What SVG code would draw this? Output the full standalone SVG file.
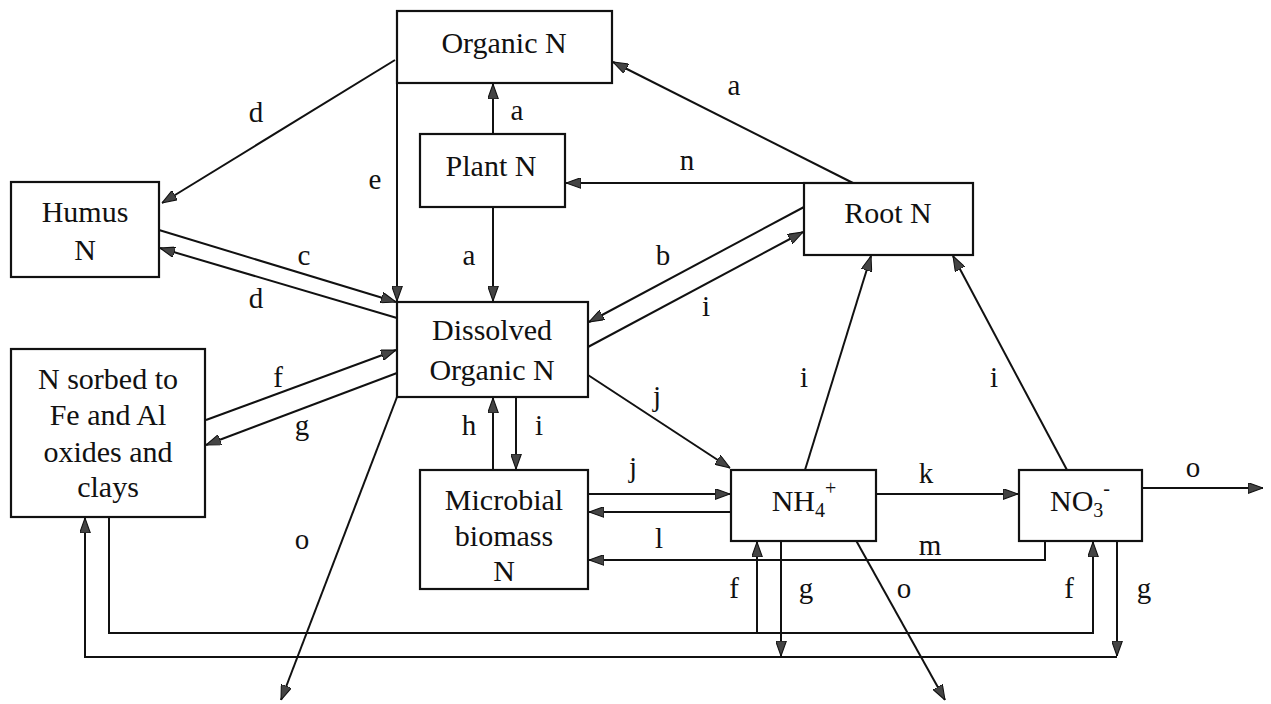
<svg xmlns="http://www.w3.org/2000/svg" width="1271" height="704" viewBox="0 0 1271 704">
<style>
.box{fill:#fff;stroke:#111;stroke-width:2.2}
text{fill:#111;text-anchor:middle}
.t{font-size:30px}
.l{font-size:29px}
.c{fill:none;stroke:#111;stroke-width:2;marker-end:url(#ah)}
</style>
<defs>
<marker id="ah" viewBox="0 0 14 10" refX="14" refY="5" markerWidth="15" markerHeight="11" markerUnits="userSpaceOnUse" orient="auto">
<path d="M0,0 L14,5 L0,10 z" fill="#444" stroke="#111" stroke-width="1"/>
</marker>
</defs>
<rect width="1271" height="704" fill="#fff"/>
<g id="connectors">
<path class="c" d="M395,60 L162,203"/>
<path class="c" d="M397,83 L397,301"/>
<path class="c" d="M493,134 L493,84"/>
<path class="c" d="M493,207 L493,301"/>
<path class="c" d="M853,183 L613,62"/>
<path class="c" d="M804,183 L566,183"/>
<path class="c" d="M159,230 L396,302"/>
<path class="c" d="M397,318 L160,248"/>
<path class="c" d="M804,207 L589,322"/>
<path class="c" d="M588,347 L803,232"/>
<path class="c" d="M206,420 L396,350"/>
<path class="c" d="M397,373 L206,445"/>
<path class="c" d="M397,397 L281,700"/>
<path class="c" d="M493,470 L493,398"/>
<path class="c" d="M516,397 L516,469"/>
<path class="c" d="M588,375 L730,468"/>
<path class="c" d="M588,494 L730,494"/>
<path class="c" d="M731,512 L589,512"/>
<path class="c" d="M1045,535 L1045,560 L589,560"/>
<path class="c" d="M876,494 L1018,494"/>
<path class="c" d="M1142,488 L1263,488"/>
<path class="c" d="M853,535 L945,700"/>
<path class="c" d="M805,470 L871,256"/>
<path class="c" d="M1067,470 L953,256"/>
<path class="c" d="M109,512 L109,633 L1093,633 L1093,542"/>
<path class="c" d="M757,633 L757,542"/>
<path class="c" d="M781,535 L781,656"/>
<path class="c" d="M1117,535 L1117,656"/>
<path class="c" d="M1117,657 L85,657 L85,518"/>
</g>
<g font-family="Liberation Serif, Times New Roman, DejaVu Serif, serif">
<g id="organic-n"><rect class="box" x="397" y="11" width="215" height="72"/><text class="t" x="504" y="53">Organic N</text></g>
<g id="plant-n"><rect class="box" x="420" y="134" width="145" height="73"/><text class="t" x="491" y="176">Plant N</text></g>
<g id="humus-n"><rect class="box" x="11" y="182" width="148" height="95"/><text class="t" x="85" y="222">Humus</text><text class="t" x="85" y="260">N</text></g>
<g id="root-n"><rect class="box" x="804" y="183" width="169" height="72"/><text class="t" x="888" y="223">Root N</text></g>
<g id="dissolved-organic-n"><rect class="box" x="397" y="302" width="191" height="95"/><text class="t" x="492" y="340">Dissolved</text><text class="t" x="492" y="380">Organic N</text></g>
<g id="n-sorbed"><rect class="box" x="11" y="349" width="194" height="168"/><text class="t" x="108" y="389">N sorbed to</text><text class="t" x="108" y="425">Fe and Al</text><text class="t" x="108" y="462">oxides and</text><text class="t" x="108" y="497">clays</text></g>
<g id="microbial-biomass-n"><rect class="box" x="420" y="470" width="168" height="119"/><text class="t" x="504" y="510">Microbial</text><text class="t" x="504" y="546">biomass</text><text class="t" x="504" y="581">N</text></g>
<g id="nh4"><rect class="box" x="731" y="470" width="145" height="71"/><text class="t" x="804" y="511">NH<tspan font-size="20" dy="6">4</tspan><tspan font-size="20" dy="-22">+</tspan></text></g>
<g id="no3"><rect class="box" x="1019" y="470" width="123" height="71"/><text class="t" x="1080" y="511">NO<tspan font-size="20" dy="6">3</tspan><tspan font-size="20" dy="-22">-</tspan></text></g>
<g id="labels">
<text class="l" x="256" y="122">d</text>
<text class="l" x="375" y="189">e</text>
<text class="l" x="517" y="120">a</text>
<text class="l" x="734" y="95">a</text>
<text class="l" x="687" y="170">n</text>
<text class="l" x="469" y="265">a</text>
<text class="l" x="304" y="265">c</text>
<text class="l" x="256" y="308">d</text>
<text class="l" x="663" y="265">b</text>
<text class="l" x="706" y="316">i</text>
<text class="l" x="278" y="387">f</text>
<text class="l" x="302" y="435">g</text>
<text class="l" x="469" y="435">h</text>
<text class="l" x="539" y="435">i</text>
<text class="l" x="302" y="549">o</text>
<text class="l" x="657" y="406">j</text>
<text class="l" x="633" y="477">j</text>
<text class="l" x="804" y="387">i</text>
<text class="l" x="994" y="387">i</text>
<text class="l" x="926" y="483">k</text>
<text class="l" x="1193" y="477">o</text>
<text class="l" x="659" y="548">l</text>
<text class="l" x="930" y="555">m</text>
<text class="l" x="734" y="598">f</text>
<text class="l" x="806" y="598">g</text>
<text class="l" x="904" y="598">o</text>
<text class="l" x="1069" y="598">f</text>
<text class="l" x="1144" y="598">g</text>
</g>
</g>
</svg>
